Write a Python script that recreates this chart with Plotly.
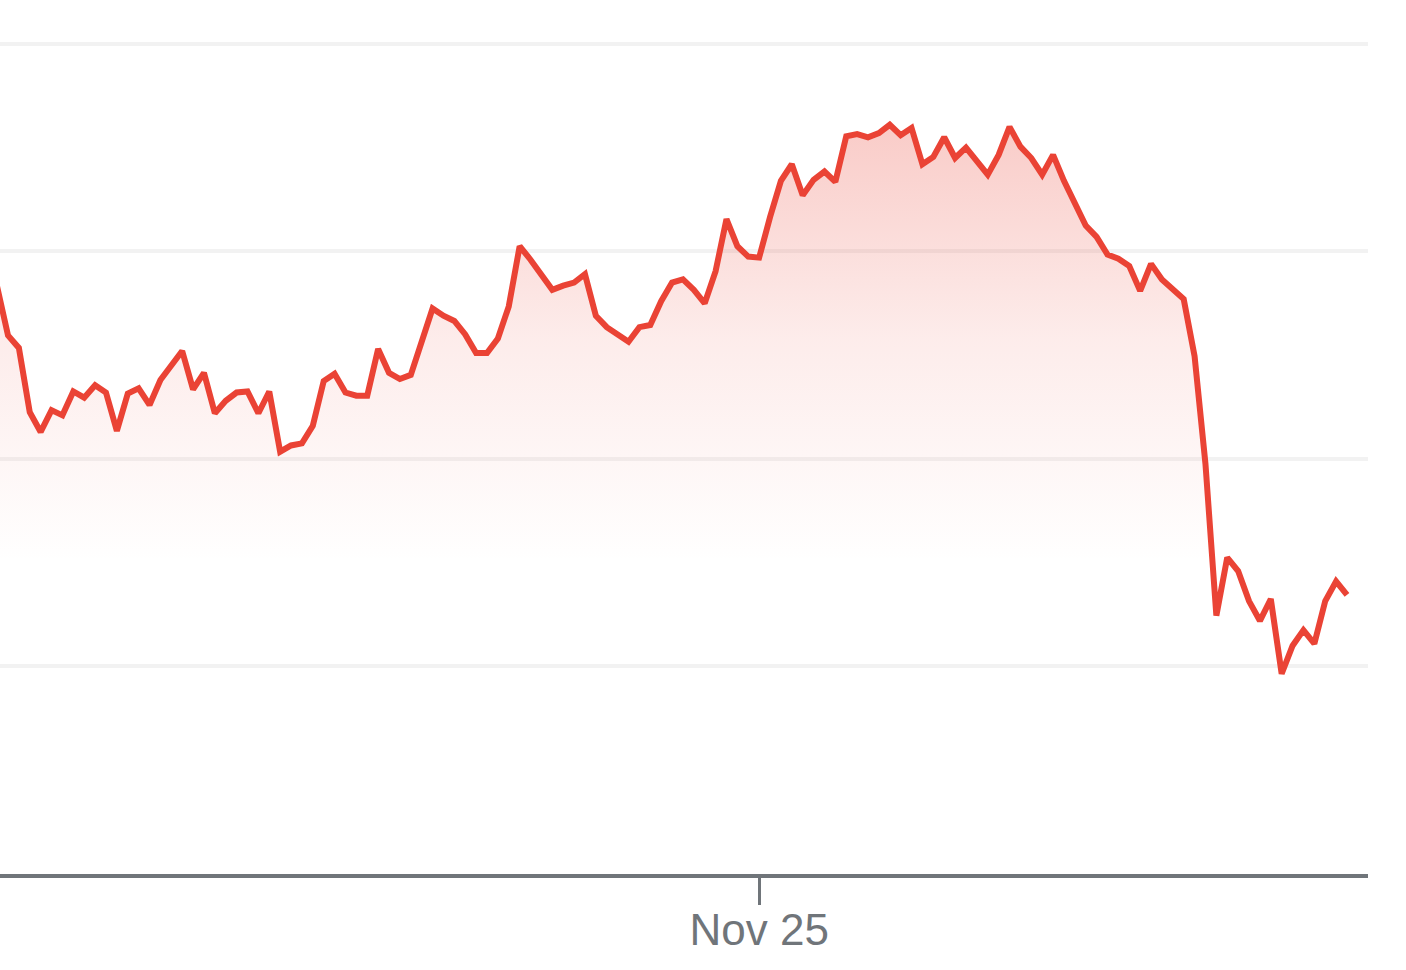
import plotly.graph_objects as go

# one price per interval
prices = [
    233.66, 233.19, 233.07, 232.45, 232.26, 232.47, 232.42, 232.65, 232.59, 232.71,
    232.64, 232.27, 232.63, 232.68, 232.52, 232.76, 232.90, 233.04, 232.67, 232.83,
    232.44, 232.56, 232.64, 232.65, 232.44, 232.65, 232.07, 232.13, 232.15, 232.32,
    232.75, 232.82, 232.64, 232.61, 232.61, 233.06, 232.83, 232.77, 232.81, 233.14,
    233.45, 233.38, 233.33, 233.20, 233.02, 233.02, 233.16, 233.47, 234.05, 233.92,
    233.78, 233.63, 233.67, 233.70, 233.78, 233.38, 233.27, 233.20, 233.13, 233.27,
    233.29, 233.52, 233.70, 233.73, 233.63, 233.50, 233.81, 234.31, 234.05, 233.95,
    233.94, 234.33, 234.68, 234.84, 234.54, 234.69, 234.77, 234.67, 235.11, 235.13,
    235.10, 235.14, 235.22, 235.12, 235.19, 234.84, 234.91, 235.10, 234.90, 235.00,
    234.87, 234.74, 234.93, 235.20, 235.01, 234.90, 234.74, 234.93, 234.68, 234.45,
    234.25, 234.14, 233.97, 233.93, 233.86, 233.62, 233.88, 233.73, 233.63, 233.54,
    232.99, 231.95, 230.49, 231.05, 230.92, 230.63, 230.44, 230.65, 229.93, 230.20,
    230.35, 230.22, 230.63, 230.82, 230.69,
]
steps = list(range(len(prices)))

tick_steps = [70]
tick_labels = ["Nov 25"]

RED = "#EA4335"
GREY = "#70757a"

fig = go.Figure()
fig.add_trace(
    go.Scatter(
        x=steps,
        y=prices,
        mode="lines",
        line=dict(color=RED, width=6),
        fill="tozeroy",
        fillgradient=dict(
            type="vertical",
            start=231.0,
            stop=235.3,
            colorscale=[
                [0, "rgba(234,67,53,0)"],
                [0.5, "rgba(234,67,53,0.1)"],
                [1, "rgba(234,67,53,0.28)"],
            ],
        ),
        hoverinfo="skip",
    )
)

fig.update_layout(
    width=1406,
    height=970,
    margin=dict(l=0, r=38, t=20, b=96),
    plot_bgcolor="white",
    paper_bgcolor="white",
    showlegend=False,
    font=dict(family="Liberation Sans, Arial, sans-serif", color=GREY),
    xaxis=dict(
        range=[0.265, 125.93],
        showgrid=False,
        zeroline=False,
        showline=True,
        linecolor=GREY,
        linewidth=4,
        ticks="outside",
        ticklen=27,
        tickwidth=3,
        tickcolor=GREY,
        tickvals=tick_steps,
        ticktext=tick_labels,
        tickfont=dict(size=44, color=GREY),
        ticklabelstandoff=-13,
    ),
    yaxis=dict(
        range=[228, 236.23],
        tick0=228,
        dtick=2,
        showticklabels=False,
        gridcolor="#f2f2f2",
        gridwidth=4,
        zeroline=False,
        showline=False,
    ),
)

# the reference has no page margin round the chart
fig.write_html(
    "out.html",
    config={"displayModeBar": False},
    post_script="document.body.style.margin = '0';",
)
